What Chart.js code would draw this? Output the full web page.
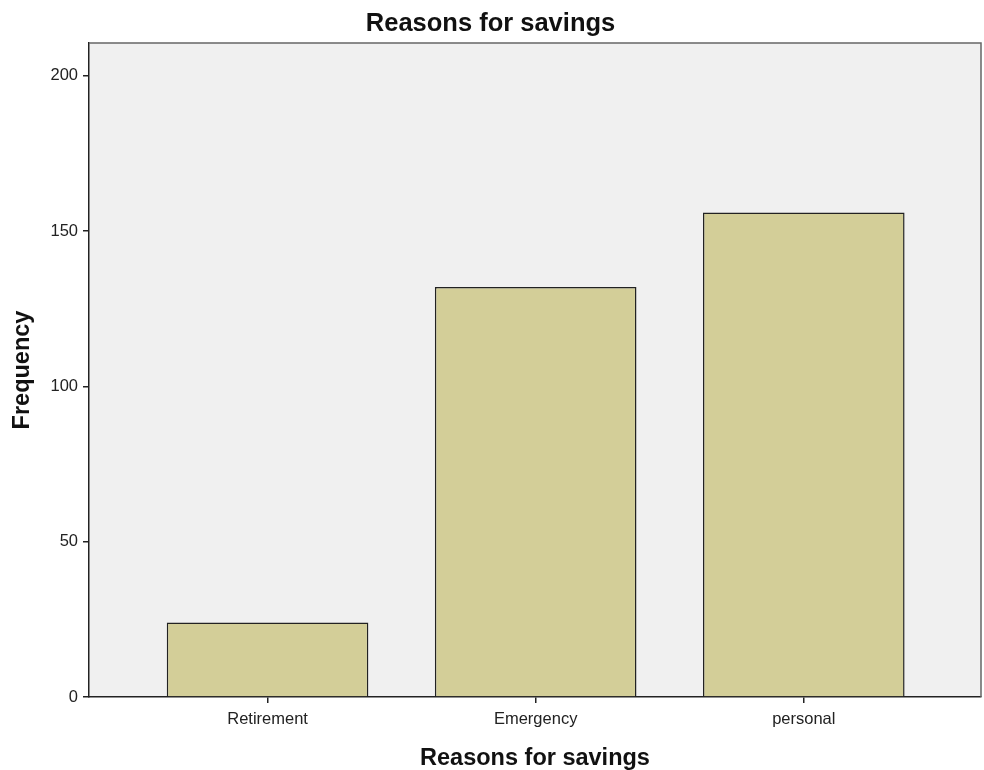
<!DOCTYPE html>
<html>
<head>
<meta charset="utf-8">
<script src="https://cdn.jsdelivr.net/npm/chart.js@4/dist/chart.umd.min.js"></script>
<style>
  body { margin: 0; background: #fff; }
</style>
</head>
<body>
<canvas id="myChart" width="984" height="770"></canvas>
<script>
var categories = ["Retirement", "Emergency", "personal"];
var frequencies = [24, 132, 156];
var yTicks = [0, 50, 100, 150, 200];

var points = [];
for (var i = 0; i < categories.length; i++) {
  points.push({ x: i, y: frequencies[i] });
}

// grey plot area with a frame, like the SPSS output
var plotFrame = {
  id: "plotFrame",
  beforeDraw: function (chart) {
    var a = chart.chartArea;
    var c = chart.ctx;
    c.save();
    c.fillStyle = "#f0f0f0";
    c.fillRect(a.left, a.top, a.right - a.left, a.bottom - a.top);
    c.restore();
  },
  afterDraw: function (chart) {
    var a = chart.chartArea;
    var c = chart.ctx;
    c.save();
    c.strokeStyle = "#666";
    c.lineWidth = 1.5;
    c.beginPath();
    c.moveTo(a.left, a.top);
    c.lineTo(a.right, a.top);
    c.lineTo(a.right, a.bottom);
    c.stroke();
    c.restore();
  },
};

var ctx = document.getElementById("myChart").getContext("2d");
var myChart = new Chart(ctx, {
  type: "bar",
  data: {
    datasets: [
      {
        data: points,
        backgroundColor: "#d3ce98",
        borderColor: "#222",
        borderWidth: 1.5,
        barPercentage: 0.752,
        categoryPercentage: 1,
      },
    ],
  },
  options: {
    responsive: false,
    animation: false,
    events: [],
    layout: { padding: { left: 0, right: 3, top: 0, bottom: 0 } },
    plugins: {
      legend: { display: false },
      tooltip: { enabled: false },
      title: {
        display: true,
        text: "Reasons for savings",
        color: "#111",
        font: { family: "Liberation Sans, Arial", size: 25.5, weight: "bold", lineHeight: 1.2 },
        padding: { top: 8.5, bottom: 3.9 },
      },
    },
    scales: {
      x: {
        type: "linear",
        offset: false,
        min: -0.666,
        max: 2.661,
        afterBuildTicks: function (scale) {
          scale.ticks = categories.map(function (c, i) { return { value: i }; });
        },
        afterFit: function (scale) { scale.height = 73; },
        ticks: {
          color: "#222",
          padding: 7,
          font: { family: "Liberation Sans, Arial", size: 16.5 },
          callback: function (v) { return categories[v]; },
        },
        grid: { offset: false, drawOnChartArea: false, tickLength: 6, color: "#222", lineWidth: 1.5 },
        border: { color: "#222", width: 1.5 },
        title: {
          display: true,
          text: "Reasons for savings",
          color: "#111",
          font: { family: "Liberation Sans, Arial", size: 23.5, weight: "bold", lineHeight: 1 },
          padding: { top: 0, bottom: 0 },
        },
      },
      y: {
        min: 0,
        max: 210.6,
        afterBuildTicks: function (scale) {
          scale.ticks = yTicks.map(function (v) { return { value: v }; });
        },
        afterFit: function (scale) { scale.width = 89; },
        ticks: {
          color: "#222",
          padding: 5,
          font: { family: "Liberation Sans, Arial", size: 16.5 },
        },
        grid: { drawOnChartArea: false, tickLength: 6, color: "#222", lineWidth: 1.5 },
        border: { color: "#222", width: 1.5 },
        title: {
          display: true,
          text: "Frequency",
          color: "#111",
          font: { family: "Liberation Sans, Arial", size: 23.5, weight: "bold", lineHeight: 1 },
          padding: { top: 11, bottom: 0 },
        },
      },
    },
  },
  plugins: [plotFrame],
});
</script>
</body>
</html>
